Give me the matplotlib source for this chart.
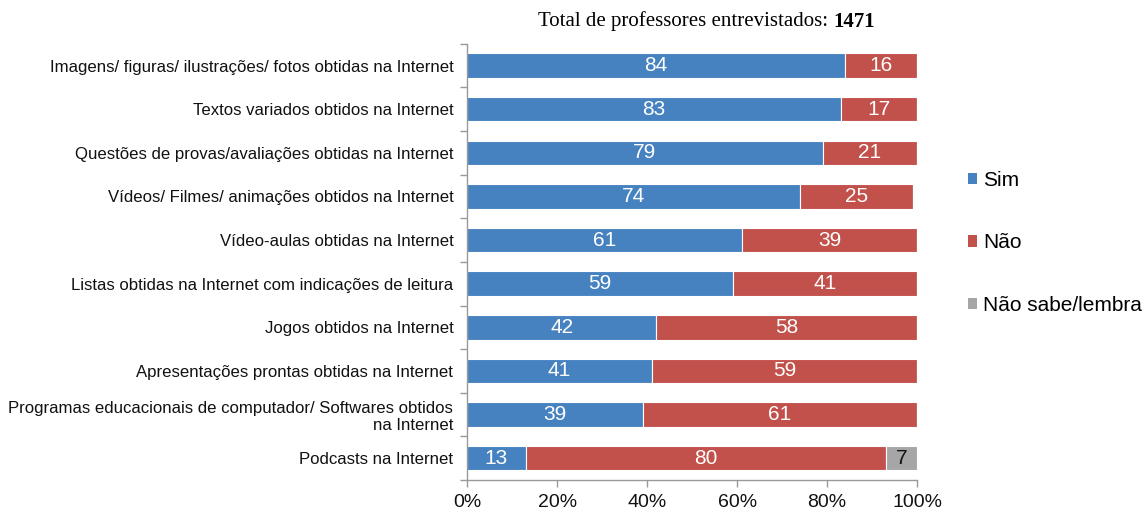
import matplotlib
matplotlib.use("Agg")
import matplotlib.pyplot as plt
from matplotlib.patches import Patch
from matplotlib.ticker import FixedLocator, MultipleLocator, FuncFormatter

categories = [
    "Imagens/ figuras/ ilustrações/ fotos obtidas na Internet",
    "Textos variados obtidos na Internet",
    "Questões de provas/avaliações obtidas na Internet",
    "Vídeos/ Filmes/ animações obtidos na Internet",
    "Vídeo-aulas obtidas na Internet",
    "Listas obtidas na Internet com indicações de leitura",
    "Jogos obtidos na Internet",
    "Apresentações prontas obtidas na Internet",
    "Programas educacionais de computador/ Softwares obtidos\nna Internet",
    "Podcasts na Internet",
]
sim = [84, 83, 79, 74, 61, 59, 42, 41, 39, 13]
nao = [16, 17, 21, 25, 39, 41, 58, 59, 61, 80]
nao_sabe = [0, 0, 0, 0, 0, 0, 0, 0, 0, 7]

series = [("Sim", sim, "#4682C0", "white"),
          ("Não", nao, "#C2514B", "white"),
          ("Não sabe/lembra", nao_sabe, "#A6A6A6", "#111111")]

plt.rcParams["font.family"] = ["Liberation Sans", "DejaVu Sans"]

fig = plt.figure(figsize=(11.45, 5.12), dpi=100)
ax = fig.add_axes([0.408, 0.0625, 0.393, 0.852])

ypos = list(range(len(categories)))
left = [0] * len(categories)
for name, vals, color, tcolor in series:
    ax.barh(ypos, vals, left=left, height=0.56, color=color,
            edgecolor="white", linewidth=0.8, label=name)
    for y, l, v in zip(ypos, left, vals):
        if v > 0:
            ax.text(l + v / 2, y, f"{v}", ha="center", va="center",
                    color=tcolor, fontsize=15)
    left = [a + b for a, b in zip(left, vals)]

ax.set_xlim(0, 100)
ax.set_ylim(len(categories) - 0.5, -0.5)
ax.set_yticks(ypos)
ax.set_yticklabels(categories, fontsize=12.1, color="#111111", linespacing=1.15)
ax.yaxis.set_minor_locator(FixedLocator([i - 0.5 for i in range(len(categories) + 1)]))
ax.tick_params(axis="y", which="major", length=0, pad=10)
ax.tick_params(axis="y", which="minor", length=5, color="#999999", width=1)
ax.xaxis.set_major_locator(MultipleLocator(20))
ax.xaxis.set_major_formatter(FuncFormatter(lambda v, p: f"{int(v)}%"))
ax.tick_params(axis="x", length=5, color="#999999", width=1, labelsize=14,
               labelcolor="#111111", pad=5)

for s in ["top", "right"]:
    ax.spines[s].set_visible(False)
for s in ["left", "bottom"]:
    ax.spines[s].set_color("#999999")
    ax.spines[s].set_linewidth(1)

fig.text(0.7275, 0.958, "Total de professores entrevistados: ",
         family="Liberation Serif", fontsize=15, ha="right", va="center")
fig.text(0.7275, 0.958, "1471", family="Liberation Serif", fontsize=15,
         fontweight="bold", ha="left", va="center")

handles = [Patch(facecolor=c, edgecolor="none") for _, _, c, _ in series]
fig.legend(handles, [n for n, _, _, _ in series], loc="upper left",
           bbox_to_anchor=(0.838, 0.683), frameon=False, fontsize=15,
           handlelength=0.45, handleheight=0.45, handletextpad=0.3,
           labelspacing=2.1, borderaxespad=0)

fig.savefig("out.png", dpi=100)
